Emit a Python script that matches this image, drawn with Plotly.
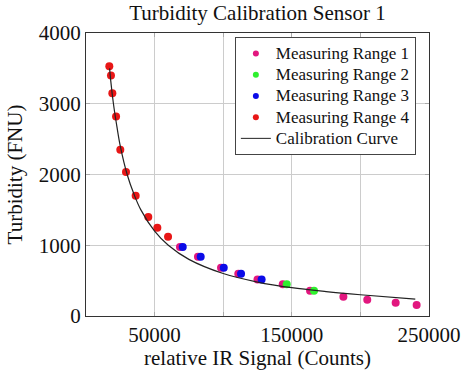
import plotly.graph_objects as go

# Measuring Range 1 (pink)
r1_x = [68500, 81600, 98400, 111000, 125000, 143400, 163300, 187600, 205000, 225700, 241000]
r1_y = [975, 838, 683, 598, 515, 448, 358, 273, 230, 188, 156]
# Measuring Range 2 (green)
r2_x = [146300, 166200]
r2_y = [448, 358]
# Measuring Range 3 (blue)
r3_x = [70500, 83600, 100400, 113000, 128000]
r3_y = [975, 838, 683, 598, 515]
# Measuring Range 4 (red)
r4_x = [17000, 18200, 19200, 21900, 25000, 29150, 36200, 45400, 52000, 59800]
r4_y = [3530, 3400, 3150, 2820, 2350, 2035, 1700, 1400, 1248, 1120]
# Calibration curve
cal_x = [17200, 18000, 20000, 22500, 25000, 30000, 35000, 40000, 50000, 60000,
         75000, 100000, 125000, 150000, 175000, 200000, 240000]
cal_y = [3500, 3330, 3000, 2680, 2400, 2000, 1720, 1500, 1200, 1000,
         800, 600, 480, 400, 345, 300, 238]

x_tickvals = [50000, 100000, 150000, 200000, 250000]
x_ticktext = ["50000", "", "150000", "", "250000"]
y_tickvals = [0, 1000, 2000, 3000, 4000]

series_names = ["Measuring Range 1", "Measuring Range 2", "Measuring Range 3", "Measuring Range 4"]
series_colors = ["#e2177f", "#2ef02e", "#0b0be8", "#e81616"]
series_x = [r1_x, r2_x, r3_x, r4_x]
series_y = [r1_y, r2_y, r3_y, r4_y]
curve_name = "Calibration Curve"

FONT = "Liberation Serif"
TXT = "#111111"
msize = 8
LEG_STYLE = "font-size:17px"


def leg(label):
    return "<span style=\"%s\">%s</span>" % (LEG_STYLE, label)


fig = go.Figure()
for name, col, xs, ys in zip(series_names, series_colors, series_x, series_y):
    fig.add_trace(go.Scatter(x=xs, y=ys, mode="markers", name=name, showlegend=False,
                             legendgroup=name, marker=dict(color=col, size=msize)))
fig.add_trace(go.Scatter(x=cal_x, y=cal_y, mode="lines", name=curve_name,
                         showlegend=False, legendgroup="cal",
                         line=dict(color="#222222", width=1.2, shape="spline")))
# legend entries (smaller symbols like the reference)
for name, col in zip(series_names, series_colors):
    fig.add_trace(go.Scatter(x=[None], y=[None], mode="markers", name=leg(name),
                             legendgroup=name, marker=dict(color=col, size=6)))
fig.add_trace(go.Scatter(x=[None], y=[None], mode="lines", name=leg(curve_name),
                         legendgroup="cal", line=dict(color="#222222", width=1)))

axis_common = dict(
    showline=True, linecolor="#333333", linewidth=1.3, mirror="ticks",
    showgrid=True, gridcolor="#cccccc", gridwidth=1,
    ticks="inside", ticklen=4, tickcolor="#aaaaaa",
    zeroline=False, automargin=False,
    tickfont=dict(family=FONT, size=21, color=TXT),
)

fig.update_layout(
    width=474, height=370,
    margin=dict(l=86, r=45, t=33, b=54),
    font=dict(family=FONT, size=17, color=TXT),
    paper_bgcolor="white", plot_bgcolor="white",
    title=dict(text="Turbidity Calibration Sensor 1", x=0.5433, xanchor="center",
               y=0.965, yanchor="middle",
               font=dict(family=FONT, size=21, color=TXT)),
    xaxis=dict(range=[0, 250000], tickvals=x_tickvals, ticktext=x_ticktext,
               title=dict(text="relative IR Signal (Counts)", standoff=4,
                          font=dict(family=FONT, size=21, color=TXT)),
               **axis_common),
    yaxis=dict(range=[0, 4000], tickvals=y_tickvals,
               title=dict(text="Turbidity (FNU)", standoff=10,
                          font=dict(family=FONT, size=21, color=TXT)),
               **axis_common),
    legend=dict(x=0.434, y=0.986, xanchor="left", yanchor="top",
                bgcolor="white", bordercolor="#444444", borderwidth=1,
                font=dict(family=FONT, size=14, color=TXT),
                itemsizing="trace", tracegroupgap=0, traceorder="normal",
                entrywidth=146, entrywidthmode="pixels"),
    showlegend=True,
)

fig.write_html("out.html", config={"displayModeBar": False},
               post_script="document.body.style.margin='0';")
